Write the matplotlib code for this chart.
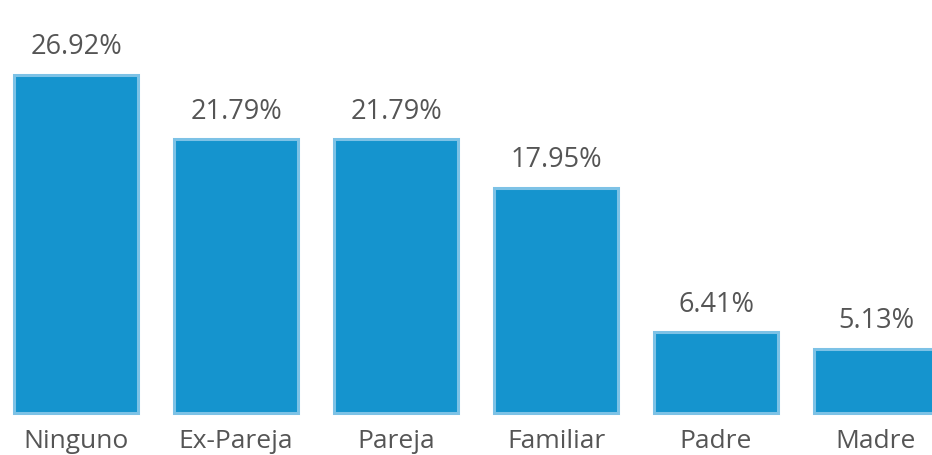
import matplotlib.pyplot as plt

categories = ['Ninguno', 'Ex-Pareja', 'Pareja', 'Familiar', 'Padre', 'Madre']
percentages = [26.92, 21.79, 21.79, 17.95, 6.41, 5.13]

fig = plt.figure(figsize=(9.32, 4.55), dpi=100)
ax = fig.add_axes([0, 0, 1, 1])

x = range(len(categories))
bars = ax.bar(x, percentages, width=0.78, color='#1594CE',
              edgecolor='#7DC2E6', linewidth=2.2)

# value labels above each bar
for xi, v in zip(x, percentages):
    ax.annotate(f'{v:.2f}%', (xi, v), xytext=(0, 15), textcoords='offset points',
                ha='center', va='baseline', fontsize=19.5, color='#555555',
                family='Open Sans')

# category labels below
for xi, name in zip(x, categories):
    ax.text(xi, -2.79, name, ha='center', va='baseline', fontsize=19,
            color='#555555', family='Open Sans')

ax.set_xlim(-0.475, 5.35)
ax.set_ylim(-3.35, 32.9)
ax.axis('off')

fig.savefig('out.png', dpi=100)
